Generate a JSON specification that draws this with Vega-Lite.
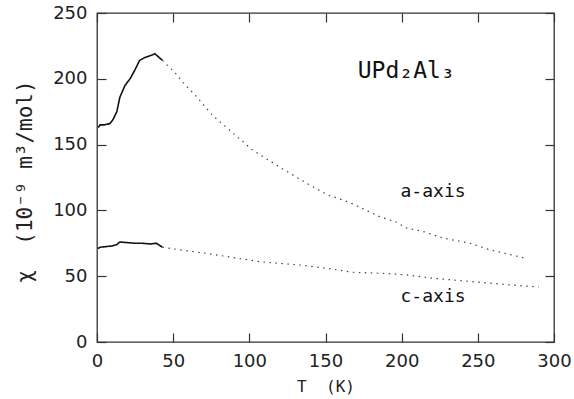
{
  "$schema": "https://vega.github.io/schema/vega-lite/v6.json",
  "width": 457,
  "height": 329,
  "autosize": {"type": "none"},
  "padding": {"left": 97, "top": 13, "right": 20, "bottom": 57},
  "background": "white",
  "config": {
    "view": {"stroke": "#333", "strokeWidth": 1.3},
    "axis": {
      "grid": false,
      "domain": false,
      "tickColor": "#333",
      "tickWidth": 1.2,
      "tickSize": 9,
      "offset": -9,
      "labelFont": "DejaVu Sans",
      "labelFontSize": 18,
      "labelColor": "#222",
      "titleFont": "DejaVu Sans Mono",
      "titleFontSize": 16,
      "titleFontWeight": "normal",
      "titleColor": "#222"
    }
  },
  "datasets": {
    "curves": [
      {"series": "a", "seg": "solid", "T": 0.7, "chi": 163},
      {"series": "a", "seg": "solid", "T": 2, "chi": 165},
      {"series": "a", "seg": "solid", "T": 5, "chi": 165},
      {"series": "a", "seg": "solid", "T": 8.5, "chi": 166},
      {"series": "a", "seg": "solid", "T": 10.5, "chi": 169},
      {"series": "a", "seg": "solid", "T": 13, "chi": 175},
      {"series": "a", "seg": "solid", "T": 15, "chi": 186},
      {"series": "a", "seg": "solid", "T": 18.4, "chi": 195},
      {"series": "a", "seg": "solid", "T": 21.7, "chi": 200},
      {"series": "a", "seg": "solid", "T": 25, "chi": 207},
      {"series": "a", "seg": "solid", "T": 28, "chi": 214},
      {"series": "a", "seg": "solid", "T": 31, "chi": 216},
      {"series": "a", "seg": "solid", "T": 33.5, "chi": 217},
      {"series": "a", "seg": "solid", "T": 36, "chi": 218},
      {"series": "a", "seg": "solid", "T": 38, "chi": 219},
      {"series": "a", "seg": "solid", "T": 41, "chi": 216},
      {"series": "a", "seg": "solid", "T": 43, "chi": 214},
      {"series": "a", "seg": "dotted", "T": 43, "chi": 214},
      {"series": "a", "seg": "dotted", "T": 52.5, "chi": 203},
      {"series": "a", "seg": "dotted", "T": 55.8, "chi": 198},
      {"series": "a", "seg": "dotted", "T": 65.7, "chi": 186},
      {"series": "a", "seg": "dotted", "T": 73, "chi": 176},
      {"series": "a", "seg": "dotted", "T": 76, "chi": 172},
      {"series": "a", "seg": "dotted", "T": 89, "chi": 159},
      {"series": "a", "seg": "dotted", "T": 95, "chi": 153},
      {"series": "a", "seg": "dotted", "T": 102, "chi": 146},
      {"series": "a", "seg": "dotted", "T": 115.6, "chi": 136},
      {"series": "a", "seg": "dotted", "T": 121, "chi": 132},
      {"series": "a", "seg": "dotted", "T": 127, "chi": 128},
      {"series": "a", "seg": "dotted", "T": 137, "chi": 121},
      {"series": "a", "seg": "dotted", "T": 151, "chi": 112},
      {"series": "a", "seg": "dotted", "T": 166, "chi": 106},
      {"series": "a", "seg": "dotted", "T": 175, "chi": 101},
      {"series": "a", "seg": "dotted", "T": 186, "chi": 95},
      {"series": "a", "seg": "dotted", "T": 197, "chi": 91},
      {"series": "a", "seg": "dotted", "T": 202, "chi": 87},
      {"series": "a", "seg": "dotted", "T": 214, "chi": 84},
      {"series": "a", "seg": "dotted", "T": 227, "chi": 79},
      {"series": "a", "seg": "dotted", "T": 245, "chi": 75},
      {"series": "a", "seg": "dotted", "T": 258, "chi": 70},
      {"series": "a", "seg": "dotted", "T": 280, "chi": 64},
      {"series": "c", "seg": "solid", "T": 0.7, "chi": 71},
      {"series": "c", "seg": "solid", "T": 2, "chi": 72},
      {"series": "c", "seg": "solid", "T": 6, "chi": 72.5},
      {"series": "c", "seg": "solid", "T": 10, "chi": 73},
      {"series": "c", "seg": "solid", "T": 13, "chi": 74},
      {"series": "c", "seg": "solid", "T": 15, "chi": 76},
      {"series": "c", "seg": "solid", "T": 20, "chi": 75.5},
      {"series": "c", "seg": "solid", "T": 25, "chi": 75},
      {"series": "c", "seg": "solid", "T": 30, "chi": 75},
      {"series": "c", "seg": "solid", "T": 35, "chi": 74.5},
      {"series": "c", "seg": "solid", "T": 39, "chi": 75},
      {"series": "c", "seg": "solid", "T": 41, "chi": 73.5},
      {"series": "c", "seg": "solid", "T": 43, "chi": 72},
      {"series": "c", "seg": "dotted", "T": 43, "chi": 72},
      {"series": "c", "seg": "dotted", "T": 54.5, "chi": 70},
      {"series": "c", "seg": "dotted", "T": 74, "chi": 67},
      {"series": "c", "seg": "dotted", "T": 96, "chi": 63},
      {"series": "c", "seg": "dotted", "T": 107, "chi": 61},
      {"series": "c", "seg": "dotted", "T": 133, "chi": 58.5},
      {"series": "c", "seg": "dotted", "T": 151, "chi": 56},
      {"series": "c", "seg": "dotted", "T": 168, "chi": 53},
      {"series": "c", "seg": "dotted", "T": 190, "chi": 52},
      {"series": "c", "seg": "dotted", "T": 203.5, "chi": 51},
      {"series": "c", "seg": "dotted", "T": 219, "chi": 48.6},
      {"series": "c", "seg": "dotted", "T": 249, "chi": 45.6},
      {"series": "c", "seg": "dotted", "T": 270, "chi": 43.5},
      {"series": "c", "seg": "dotted", "T": 290, "chi": 41.8}
    ],
    "labels": [
      {"text": "UPd₂Al₃", "T": 203, "chi": 206, "size": 23},
      {"text": "a-axis", "T": 220.6, "chi": 114, "size": 18},
      {"text": "c-axis", "T": 220.6, "chi": 34, "size": 18}
    ]
  },
  "layer": [
    {
      "data": {"name": "curves"},
      "mark": {"type": "line"},
      "encoding": {
        "x": {
          "field": "T", "type": "quantitative",
          "scale": {"domain": [0, 300], "nice": false},
          "axis": {"title": "T\u00a0\u00a0(K)", "values": [0, 50, 100, 150, 200, 250, 300], "labelPadding": 10, "titlePadding": 8, "labelFlush": false}
        },
        "y": {
          "field": "chi", "type": "quantitative",
          "scale": {"domain": [0, 250], "nice": false},
          "axis": {"title": "χ\u00a0\u00a0(10⁻⁹\u00a0m³/mol)", "titleFontSize": 21, "values": [0, 50, 100, 150, 200, 250], "labelPadding": 10, "titleX": -81, "titleY": 168, "titleBaseline": "middle", "titleAngle": 270, "labelFlush": false}
        },
        "detail": {"field": "series"},
        "strokeDash": {"field": "seg", "type": "nominal", "scale": {"domain": ["solid", "dotted"], "range": [[1, 0], [1.5, 4.5]]}, "legend": null},
        "strokeWidth": {"field": "seg", "type": "nominal", "scale": {"domain": ["solid", "dotted"], "range": [1.6, 1.2]}, "legend": null},
        "color": {"field": "seg", "type": "nominal", "scale": {"domain": ["solid", "dotted"], "range": ["#111", "#444"]}, "legend": null}
      }
    },
    {
      "data": {"name": "labels"},
      "mark": {"type": "text", "font": "DejaVu Sans Mono", "color": "#111", "align": "center", "baseline": "middle"},
      "encoding": {
        "x": {"field": "T", "type": "quantitative", "axis": {"orient": "top", "title": null, "labels": false, "values": [0, 50, 100, 150, 200, 250, 300]}},
        "y": {"field": "chi", "type": "quantitative", "axis": {"orient": "right", "title": null, "labels": false, "values": [0, 50, 100, 150, 200, 250]}},
        "text": {"field": "text"},
        "size": {"field": "size", "type": "quantitative", "scale": null, "legend": null}
      }
    }
  ],
  "resolve": {"axis": {"x": "independent", "y": "independent"}}
}
